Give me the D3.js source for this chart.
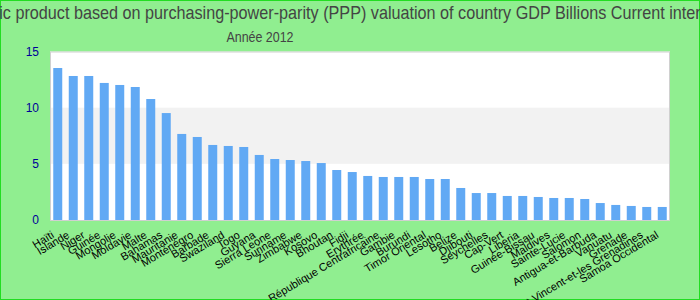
<!DOCTYPE html>
<html><head><meta charset="utf-8">
<script src="https://cdn.jsdelivr.net/npm/d3@7"></script>
<style>html,body{margin:0;padding:0;background:#fff;}svg{display:block;}</style>
</head><body>
<svg id="c" width="700" height="300"></svg>
<script>
const titleText = "Gross domestic product based on purchasing-power-parity (PPP) valuation of country GDP Billions Current international dollar";
const subtitleText = "Année 2012";
const categories = ["Haïti","Islande","Niger","Guinée","Mongolie","Moldavie","Malte","Bahamas","Mauritanie","Monténégro","Barbade","Swaziland","Togo","Guyana","Sierra Leone","Suriname","Zimbabwe","Kosovo","Bhoutan","Fidji","Erythrée","République Centrafricaine","Gambie","Burundi","Timor Oriental","Lesotho","Belize","Djibouti","Seychelles","Cap-Vert","Liberia","Guinée-Bissau","Maldives","Sainte-Lucie","Salomon","Antigua-et-Barbuda","Vanuatu","Grenade","Saint-Vincent-et-les Grenadines","Samoa Occidental"];
const values = [13.53,12.82,12.82,12.2,12.02,11.84,10.77,9.52,7.66,7.39,6.68,6.59,6.5,5.79,5.43,5.34,5.25,5.07,4.45,4.27,3.92,3.83,3.83,3.83,3.65,3.65,2.85,2.4,2.4,2.14,2.14,2.05,1.96,1.96,1.87,1.51,1.34,1.25,1.16,1.16];
const yTicks = [0,5,10,15];
const bands = [[5,10]];

const svg = d3.select("#c");
const W = 700, H = 300;
const m = {left:50, right:30, top:51.5, bottom:80};
svg.append("rect").attr("x",0.5).attr("y",0.5).attr("width",W-1).attr("height",H-1)
  .attr("fill","#90ee90").attr("stroke","#22dd22").attr("stroke-width",1);

const x = d3.scaleBand().domain(categories).range([m.left, W-m.right]).paddingInner(0.42).paddingOuter(0.21);
const y = d3.scaleLinear().domain([0,15]).range([H-m.bottom, m.top]);

svg.append("rect").attr("x",m.left).attr("y",m.top).attr("width",W-m.right-m.left).attr("height",y(0)-m.top).attr("fill","#fff");
svg.selectAll(".band").data(bands).enter().append("rect")
  .attr("x",m.left).attr("width",W-m.right-m.left)
  .attr("y",d=>y(d[1])).attr("height",d=>y(d[0])-y(d[1])).attr("fill","#f2f2f2");

svg.selectAll(".bar").data(values).enter().append("rect")
  .attr("x",(d,i)=>x(categories[i])).attr("width",x.bandwidth())
  .attr("y",d=>y(d)).attr("height",d=>y(0)-y(d)).attr("fill","#61a9f4");

svg.append("rect").attr("x",m.left+0.5).attr("y",m.top+0.5).attr("width",W-m.right-m.left-1).attr("height",y(0)-m.top)
  .attr("fill","none").attr("stroke","#d0d0d0").attr("stroke-width",1);

const ya = svg.append("g").attr("transform",`translate(${m.left},0)`)
  .call(d3.axisLeft(y).tickValues(yTicks).tickSize(0).tickPadding(11));
ya.select(".domain").remove();
ya.selectAll("text").attr("fill","#000099").attr("font-family","Liberation Sans, Arial, sans-serif").attr("font-size",12);

const xa = svg.append("g").attr("transform",`translate(0,${y(0)})`)
  .call(d3.axisBottom(x).tickSize(0).tickPadding(0));
xa.select(".domain").remove();
xa.selectAll("text").attr("fill","#000").attr("font-family","Liberation Sans, Arial, sans-serif").attr("font-size",11)
  .attr("text-anchor","end").attr("dy",0)
  .attr("transform","translate(-3,17) rotate(-31)");

svg.append("g").attr("transform","translate(350,19) scale(0.9,1)")
  .append("text").attr("x",0).attr("y",0).attr("text-anchor","middle")
  .attr("font-family","Liberation Sans, Arial, sans-serif").attr("font-size",18).attr("fill","#444")
  .text(titleText);
svg.append("g").attr("transform","translate(260,42) scale(0.83,1)")
  .append("text").attr("x",0).attr("y",0).attr("text-anchor","middle")
  .attr("font-family","Liberation Sans, Arial, sans-serif").attr("font-size",15).attr("fill","#444")
  .text(subtitleText);
</script>
</body></html>
